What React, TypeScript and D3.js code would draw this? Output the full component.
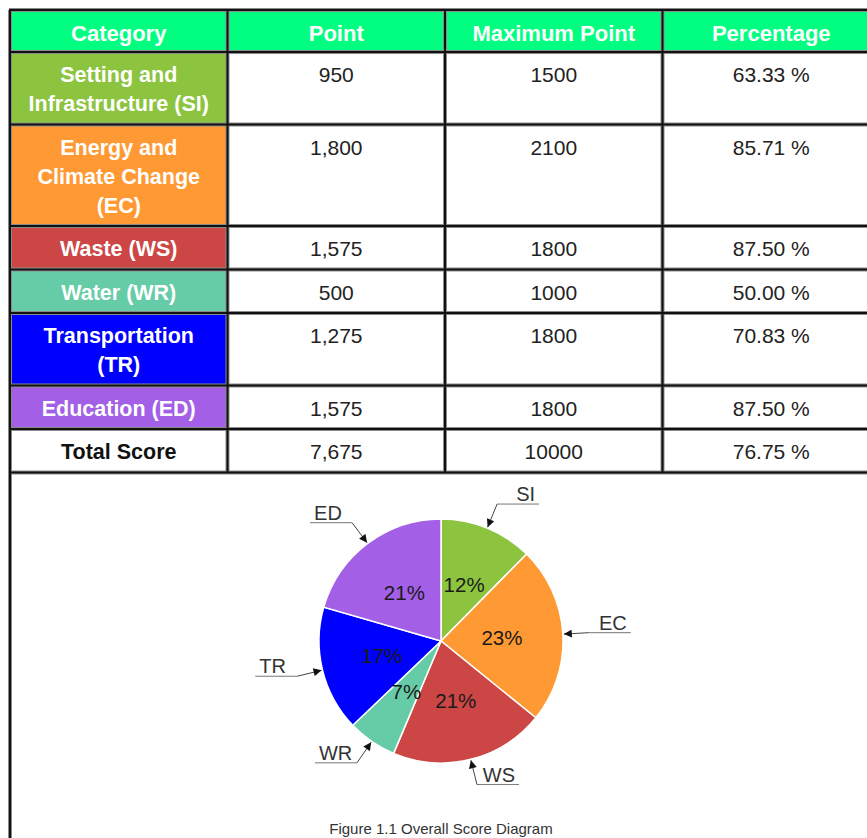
import React, { useEffect, useRef } from 'react';
import * as d3 from 'd3';

const headers = ['Category', 'Point', 'Maximum Point', 'Percentage'];
const codes = ['SI', 'EC', 'WS', 'WR', 'TR', 'ED'];
const categoryLines = [
  ['Setting and', 'Infrastructure (SI)'],
  ['Energy and', 'Climate Change', '(EC)'],
  ['Waste (WS)'],
  ['Water (WR)'],
  ['Transportation', '(TR)'],
  ['Education (ED)'],
];
const points = [950, 1800, 1575, 500, 1275, 1575];
const maxPoints = [1500, 2100, 1800, 1000, 1800, 1800];
const colors = ['#8cc43f', '#ff9933', '#cc4646', '#66cca8', '#0000ff', '#a35fe6'];
const totalLabel = 'Total Score';
const caption = 'Figure 1.1 Overall Score Diagram';

const font = '"Liberation Sans", Arial, Helvetica, sans-serif';

const App = () => {
  const chartRef = useRef<SVGSVGElement>(null);

  useEffect(() => {
    const width = 867;
    const height = 838;
    const svg = d3.select(chartRef.current).attr('width', width).attr('height', height);
    svg.selectAll('*').remove();

    const x = d3.scaleBand().domain(headers).range([10, 880]);
    const headerTop = 10;
    const headerH = 42;
    const lineH = 29;
    const rowH = (n: number) => 14.5 + lineH * n;

    const total = d3.sum(points);
    const totalMax = d3.sum(maxPoints);
    const pct = (p: number, m: number) => d3.format('.2f')((p / m) * 100) + ' %';
    const comma = d3.format(',');

    const rows = codes.map((c, i) => ({
      lines: categoryLines[i],
      fill: colors[i],
      color: '#ffffff',
      cells: [comma(points[i]), String(maxPoints[i]), pct(points[i], maxPoints[i])],
    }));
    rows.push({
      lines: [totalLabel],
      fill: '#ffffff',
      color: '#111111',
      cells: [comma(total), String(totalMax), pct(total, totalMax)],
    });

    let y = headerTop + headerH;
    const tops = rows.map(r => {
      const t = y;
      y += rowH(r.lines.length);
      return t;
    });
    const tableBottom = y;

    const defs = svg.append('defs');
    defs.append('marker')
      .attr('id', 'arrow')
      .attr('viewBox', '0 0 10 10')
      .attr('refX', 10)
      .attr('refY', 5)
      .attr('markerWidth', 9)
      .attr('markerHeight', 8)
      .attr('orient', 'auto')
      .append('path')
      .attr('d', 'M0,0 L10,5 L0,10 z')
      .attr('fill', '#111');

    const g = svg.append('g').attr('font-family', font);

    // header
    g.append('rect')
      .attr('x', 10)
      .attr('y', headerTop)
      .attr('width', 870)
      .attr('height', headerH)
      .attr('fill', '#00ff80');
    g.selectAll('.head')
      .data(headers)
      .join('text')
      .attr('class', 'head')
      .attr('x', d => (x(d) as number) + x.bandwidth() / 2)
      .attr('y', headerTop + 31)
      .attr('text-anchor', 'middle')
      .attr('font-size', 22)
      .attr('font-weight', 'bold')
      .attr('fill', '#ffffff')
      .text(d => d);

    // body rows
    rows.forEach((r, i) => {
      const top = tops[i];
      const h = rowH(r.lines.length);
      g.append('rect')
        .attr('x', x('Category') as number)
        .attr('y', top)
        .attr('width', x.bandwidth())
        .attr('height', h)
        .attr('fill', r.fill);
      g.append('text')
        .attr('text-anchor', 'middle')
        .attr('font-size', 21.5)
        .attr('font-weight', 'bold')
        .attr('fill', r.color)
        .selectAll('tspan')
        .data(r.lines)
        .join('tspan')
        .attr('x', (x('Category') as number) + x.bandwidth() / 2)
        .attr('y', (d, j) => top + 30 + j * lineH)
        .text(d => d);
      r.cells.forEach((v, j) => {
        const col = headers[j + 1];
        g.append('text')
          .attr('x', (x(col) as number) + x.bandwidth() / 2)
          .attr('y', top + 30)
          .attr('text-anchor', 'middle')
          .attr('font-size', 21)
          .attr('fill', '#222')
          .text(v);
      });
    });

    // grid lines
    const hLines = [headerTop, headerTop + headerH, ...tops.slice(1), tableBottom];
    const vLines = headers.map(h => x(h) as number).slice(1);
    const grid = g.append('g');
    [{ c: '#8a8a8a', w: 4 }, { c: '#111', w: 2 }].forEach(s => {
      grid.selectAll(null)
        .data(hLines)
        .join('line')
        .attr('x1', 9)
        .attr('x2', 880)
        .attr('y1', d => d)
        .attr('y2', d => d)
        .attr('stroke', s.c)
        .attr('stroke-width', s.w);
      grid.selectAll(null)
        .data(vLines)
        .join('line')
        .attr('x1', d => d)
        .attr('x2', d => d)
        .attr('y1', headerTop)
        .attr('y2', tableBottom)
        .attr('stroke', s.c)
        .attr('stroke-width', s.w);
      grid.append('line')
        .attr('x1', 10)
        .attr('x2', 10)
        .attr('y1', headerTop)
        .attr('y2', height)
        .attr('stroke', s.c)
        .attr('stroke-width', s.w);
    });

    // pie
    const cx = 441;
    const cy = 641;
    const r = 122;
    const pie = d3.pie<number>().sort(null).value(d => d);
    const arcs = pie(points);
    const arc = d3.arc<d3.PieArcDatum<number>>().innerRadius(0).outerRadius(r);
    const pg = g.append('g').attr('transform', `translate(${cx},${cy})`);

    pg.selectAll('path.slice')
      .data(arcs)
      .join('path')
      .attr('class', 'slice')
      .attr('d', arc)
      .attr('fill', (d, i) => colors[i])
      .attr('stroke', '#ffffff')
      .attr('stroke-width', 1.5);

    pg.selectAll('text.pct')
      .data(arcs)
      .join('text')
      .attr('class', 'pct')
      .attr('transform', d => `translate(${arc.centroid(d)})`)
      .attr('text-anchor', 'middle')
      .attr('dy', '0.36em')
      .attr('font-size', 20.5)
      .attr('fill', '#1a1a1a')
      .text(d => `${Math.round((d.value / total) * 100)}%`);

    // leader labels
    arcs.forEach((d, i) => {
      const mid = (d.startAngle + d.endAngle) / 2;
      const sx = Math.sin(mid);
      const sy = -Math.cos(mid);
      const tip = [sx * (r + 1), sy * (r + 1)];
      const elbow = [sx * (r + 26), sy * (r + 26)];
      const side = sx >= 0 ? 1 : -1;
      const end = elbow[0] + side * 42;
      pg.append('line')
        .attr('x1', elbow[0])
        .attr('y1', elbow[1])
        .attr('x2', end)
        .attr('y2', elbow[1])
        .attr('stroke', '#777')
        .attr('stroke-width', 1);
      pg.append('line')
        .attr('x1', elbow[0])
        .attr('y1', elbow[1])
        .attr('x2', tip[0])
        .attr('y2', tip[1])
        .attr('stroke', '#444')
        .attr('stroke-width', 1)
        .attr('marker-end', 'url(#arrow)');
      pg.append('text')
        .attr('x', end - side * 4)
        .attr('y', elbow[1] - 3)
        .attr('text-anchor', side > 0 ? 'end' : 'start')
        .attr('font-size', 20)
        .attr('fill', '#333')
        .text(codes[i]);
    });

    g.append('text')
      .attr('x', cx)
      .attr('y', 834)
      .attr('text-anchor', 'middle')
      .attr('font-size', 15)
      .attr('fill', '#333')
      .text(caption);
  }, []);

  return (
    <div style={{ position: 'absolute', left: 0, top: 0, width: 867, height: 838, overflow: 'hidden', background: '#fff' }}>
      <svg ref={chartRef} style={{ display: 'block' }}></svg>
    </div>
  );
};

export default App;
